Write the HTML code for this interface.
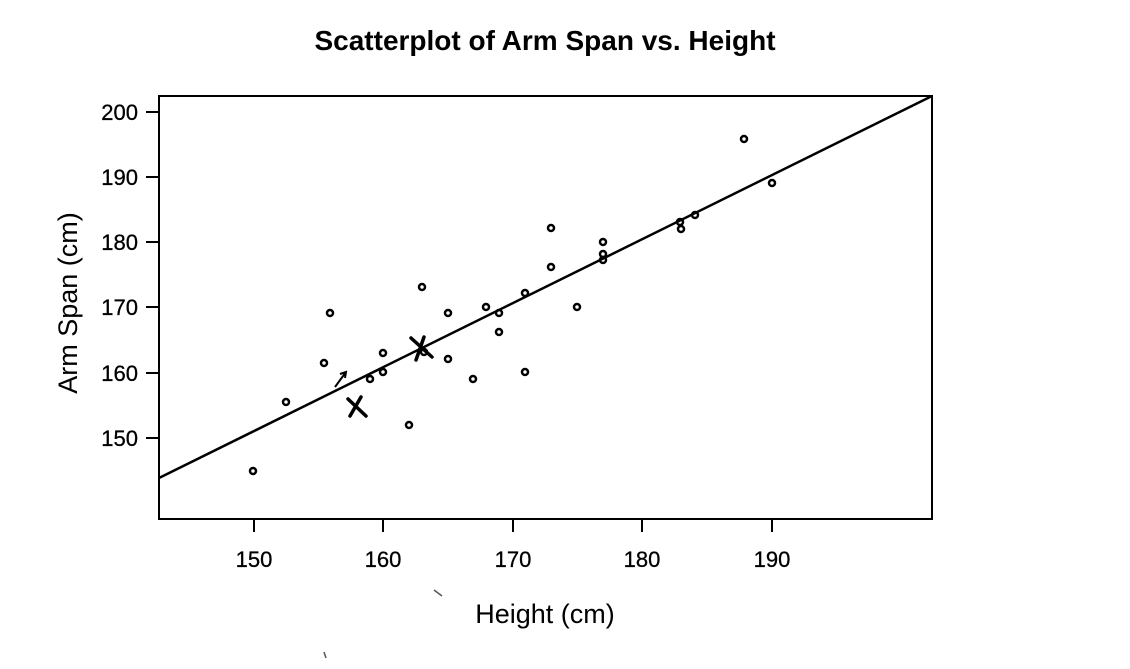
<!DOCTYPE html><html><head><style>body{margin:0;background:#fff}</style></head><body>
<svg width="1130" height="664" xmlns="http://www.w3.org/2000/svg" font-family="Liberation Sans, sans-serif">
<rect width="1130" height="664" fill="#fff"/>
<text x="545" y="50" font-size="28" font-weight="bold" text-anchor="middle">Scatterplot of Arm Span vs. Height</text>
<rect x="159" y="96" width="773" height="423" fill="none" stroke="#000" stroke-width="2"/>
<g stroke="#000" stroke-width="2">
<line x1="146" y1="112" x2="159" y2="112"/><line x1="146" y1="177" x2="159" y2="177"/><line x1="146" y1="242" x2="159" y2="242"/><line x1="146" y1="307" x2="159" y2="307"/><line x1="146" y1="373" x2="159" y2="373"/><line x1="146" y1="438" x2="159" y2="438"/>
<line x1="254" y1="519" x2="254" y2="532"/><line x1="383" y1="519" x2="383" y2="532"/><line x1="513" y1="519" x2="513" y2="532"/><line x1="642" y1="519" x2="642" y2="532"/><line x1="772" y1="519" x2="772" y2="532"/>
</g>
<g font-size="22" text-anchor="end" stroke="#000" stroke-width="0.3">
<text x="138" y="120">200</text><text x="138" y="185">190</text><text x="138" y="250">180</text><text x="138" y="315">170</text><text x="138" y="381">160</text><text x="138" y="446">150</text>
</g>
<g font-size="22" text-anchor="middle" stroke="#000" stroke-width="0.3">
<text x="254" y="567">150</text><text x="383" y="567">160</text><text x="513" y="567">170</text><text x="642" y="567">180</text><text x="772" y="567">190</text>
</g>
<text x="545" y="623" font-size="27" text-anchor="middle">Height (cm)</text>
<text transform="translate(77,303) rotate(-90)" font-size="27" text-anchor="middle">Arm Span (cm)</text>
<line x1="159" y1="478" x2="932" y2="96" stroke="#000" stroke-width="2.5"/>
<g fill="none" stroke="#000" stroke-width="2.5">
<circle cx="253" cy="471" r="3"/><circle cx="286" cy="402" r="3"/><circle cx="324" cy="363" r="3"/><circle cx="330" cy="313" r="3"/><circle cx="370" cy="379" r="3"/><circle cx="383" cy="372" r="3"/><circle cx="383" cy="353" r="3"/><circle cx="409" cy="425" r="3"/><circle cx="422" cy="287" r="3"/><circle cx="424" cy="352" r="3"/><circle cx="448" cy="359" r="3"/><circle cx="448" cy="313" r="3"/><circle cx="473" cy="379" r="3"/><circle cx="486" cy="307" r="3"/><circle cx="499" cy="313" r="3"/><circle cx="499" cy="332" r="3"/><circle cx="525" cy="372" r="3"/><circle cx="525" cy="293" r="3"/><circle cx="551" cy="228" r="3"/><circle cx="551" cy="267" r="3"/><circle cx="577" cy="307" r="3"/><circle cx="603" cy="242" r="3"/><circle cx="603" cy="254" r="3"/><circle cx="603" cy="260" r="3"/><circle cx="680" cy="222" r="3"/><circle cx="681" cy="229" r="3"/><circle cx="695" cy="215" r="3"/><circle cx="744" cy="139" r="3"/><circle cx="772" cy="183" r="3"/>
</g>
<g stroke="#000" stroke-width="3.5" stroke-linecap="round">
<line x1="348" y1="399" x2="366" y2="416"/><line x1="361" y1="397" x2="350" y2="416"/>
<line x1="411" y1="338" x2="432" y2="357"/><line x1="424" y1="337" x2="416" y2="360"/>
</g>
<path d="M335 387 L346 372 M340 374 L346 372 L345 378" stroke="#000" stroke-width="2" fill="none"/>
<path d="M434 590 L442 596" stroke="#555" stroke-width="1.5"/>
<path d="M324 652 L326 658" stroke="#555" stroke-width="1.5"/>
</svg></body></html>
